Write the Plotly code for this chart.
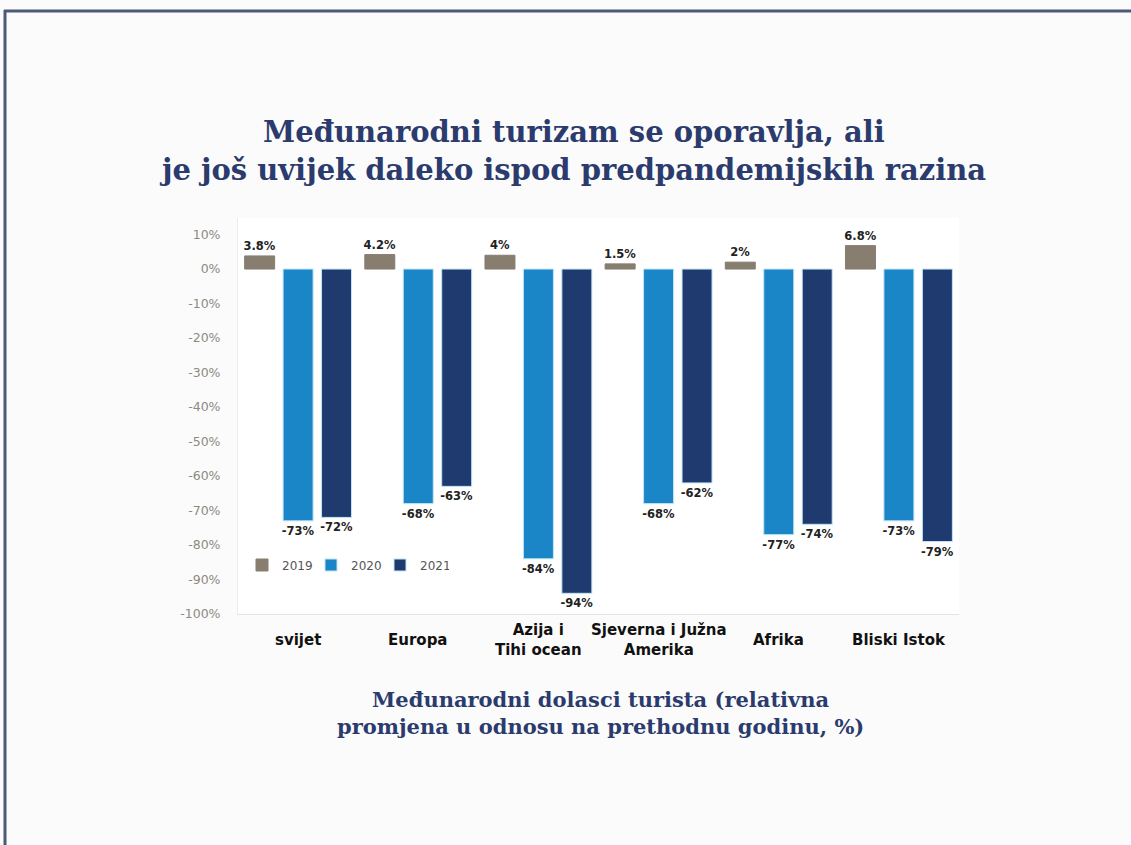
import plotly.graph_objects as go

categories = ["svijet", "Europa", "Azija i<br>Tihi ocean", "Sjeverna i Južna<br>Amerika", "Afrika", "Bliski Istok"]
years = ["2019", "2020", "2021"]
v2019 = [3.8, 4.2, 4.0, 1.5, 2.0, 6.8]
v2020 = [-73, -68, -84, -68, -77, -73]
v2021 = [-72, -63, -94, -62, -74, -79]
labels2019 = ["3.8%", "4.2%", "4%", "1.5%", "2%", "6.8%"]
tick_vals = [10, 0, -10, -20, -30, -40, -50, -60, -70, -80, -90, -100]
tick_text = ["10%", "0%", "-10%", "-20%", "-30%", "-40%", "-50%", "-60%", "-70%", "-80%", "-90%", "-100%"]

colors = ["#877e70", "#1a86c8", "#1f3a6e"]
series = [v2019, v2020, v2021]
texts = [labels2019, [f"{v}%" for v in v2020], [f"{v}%" for v in v2021]]

fig = go.Figure()
for name, vals, col, txt in zip(years, series, colors, texts):
    fig.add_trace(go.Bar(
        x=categories, y=vals, name=name,
        marker=dict(color=col, line=dict(color="#bfe6f5" if name != "2019" else col, width=1)),
        text=txt, textposition="outside", cliponaxis=False, constraintext="none",
        textfont=dict(family="DejaVu Sans", size=11.5, color="#222222", weight="bold"),
    ))

W, H = 1131, 845
L, R, T, B = 238, 1131 - 959, 218, 845 - 614
pw, ph = W - L - R, H - T - B

fig.update_layout(
    width=W, height=H,
    margin=dict(l=L, r=R, t=T, b=B),
    paper_bgcolor="#fbfbfb",
    plot_bgcolor="#ffffff",
    barmode="group", bargap=0.04, bargroupgap=0.22,
    showlegend=True,
    legend=dict(orientation="h", x=(242 - L) / pw, y=(614 - 565) / ph, xanchor="left", yanchor="middle",
                font=dict(family="DejaVu Sans", size=12, color="#555555"), bgcolor="rgba(0,0,0,0)",
                traceorder="normal", itemwidth=30, entrywidth=24, entrywidthmode="pixels"),
    title=dict(
        text="Međunarodni turizam se oporavlja, ali<br>je još uvijek daleko ispod predpandemijskih razina",
        x=574 / W, xanchor="center", y=1 - 142 / H, yanchor="middle",
        font=dict(family="DejaVu Serif", size=29, color="#2b3b6e", weight="bold"),
    ),
    xaxis=dict(range=[-0.5, 5.5], showgrid=False, showline=True, linecolor="#e4e4e4", linewidth=1,
               ticks="", showticklabels=False, zeroline=False),
    yaxis=dict(range=[-100, 14.8], tickvals=tick_vals, ticktext=tick_text, showgrid=False,
               showline=True, linecolor="#ececec", linewidth=1, zeroline=False,
               tickfont=dict(family="DejaVu Sans", size=12.5, color="#8c8a82"), ticks="",
               ticklabelstandoff=14),
    font=dict(family="DejaVu Sans"),
)

# category labels, vertically centred as in the reference
for c in categories:
    fig.add_annotation(
        text=c, x=c, xref="x", yref="paper", y=(614 - 640) / ph,
        xanchor="center", yanchor="middle", showarrow=False,
        font=dict(family="DejaVu Sans", size=15, color="#111111", weight="bold"),
    )

fig.add_annotation(
    text="Međunarodni dolasci turista (relativna<br>promjena u odnosu na prethodnu godinu, %)",
    xref="paper", yref="paper", x=(600 - L) / pw, y=(614 - 713) / ph,
    xanchor="center", yanchor="middle", showarrow=False,
    font=dict(family="DejaVu Serif", size=21, color="#2b3b6e", weight="bold"),
)

# frame lines (top and left)
fig.add_shape(type="line", xref="paper", yref="paper",
              x0=(4 - L) / pw, x1=(W - L) / pw, y0=(614 - 11) / ph, y1=(614 - 11) / ph,
              line=dict(color="#4a5a78", width=3))
fig.add_shape(type="line", xref="paper", yref="paper",
              x0=(5 - L) / pw, x1=(5 - L) / pw, y0=(614 - 10) / ph, y1=(614 - H) / ph,
              line=dict(color="#4a5a78", width=3))

fig.write_html("out.html", config={"displayModeBar": False},
               post_script="document.body.style.margin='0px';")
